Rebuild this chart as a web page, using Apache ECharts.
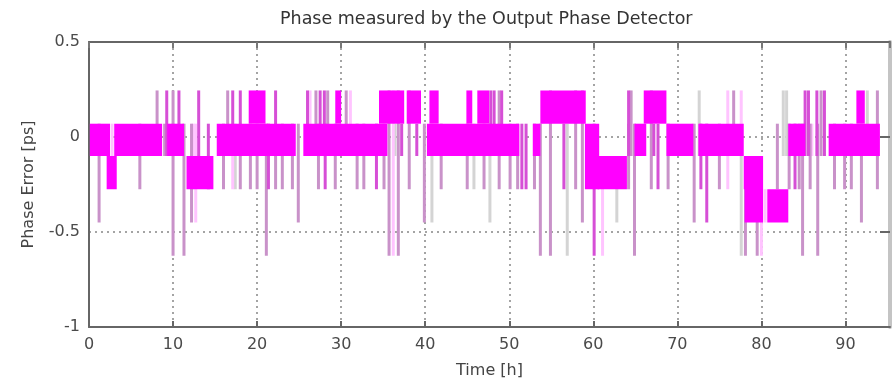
<!DOCTYPE html>
<html><head><meta charset="utf-8">
<script src="https://cdn.jsdelivr.net/npm/echarts@6/dist/echarts.min.js"></script>
<style>html,body{margin:0;padding:0;background:#fff}#c{width:894px;height:384px}</style>
</head><body><div id="c"></div>
<script>
// Time axis [h] and phase axis [ps]
const titleText = 'Phase measured by the Output Phase Detector';
const xName = 'Time [h]';
const yName = 'Phase Error [ps]';
const xTicks = [0, 10, 20, 30, 40, 50, 60, 70, 80, 90];
const yTicks = [-1, -0.5, 0, 0.5];

// Dense toggling regions: [tStart, tEnd, low, high]
const blocks = [
  [0.1, 2.5, -0.1, 0.07], [3.0, 8.7, -0.1, 0.07], [9.3, 11.3, -0.1, 0.07], [15.2, 24.6, -0.1, 0.07],
  [25.5, 35.5, -0.1, 0.07], [40.2, 51.2, -0.1, 0.07], [52.8, 53.7, -0.1, 0.07], [59.0, 60.7, -0.275, 0.07],
  [64.9, 66.3, -0.1, 0.07], [68.7, 71.9, -0.1, 0.07], [72.5, 77.9, -0.1, 0.07], [83.2, 85.2, -0.1, 0.07],
  [88.0, 94.1, -0.1, 0.07],
  [19.0, 21.0, 0.07, 0.245], [29.3, 30.0, 0.07, 0.245], [34.5, 37.5, 0.07, 0.245], [37.8, 39.5, 0.07, 0.245],
  [40.5, 41.6, 0.07, 0.245], [44.9, 45.6, 0.07, 0.245], [46.2, 47.6, 0.07, 0.245], [53.7, 59.1, 0.07, 0.245],
  [66.0, 68.7, 0.07, 0.245], [91.3, 92.3, 0.07, 0.245],
  [2.1, 3.3, -0.275, -0.1], [11.6, 14.8, -0.275, -0.1], [60.5, 64.0, -0.275, -0.1], [77.9, 78.6, -0.275, -0.1],
  [78.0, 80.2, -0.45, -0.1], [80.7, 83.2, -0.45, -0.275]
];

// Single excursions: [t, low, high]
const spikesPurple = [
  [8.1, -0.1, 0.245], [10.0, -0.1, 0.245], [16.5, -0.1, 0.245], [27.0, -0.1, 0.245], [28.4, -0.1, 0.245],
  [30.6, -0.1, 0.245], [48.8, -0.1, 0.245], [64.5, -0.1, 0.245], [76.7, -0.1, 0.245], [87.1, -0.1, 0.245],
  [93.8, -0.1, 0.245], [9.0, -0.1, 0.07],
  [1.2, -0.45, 0.07], [6.05, -0.275, 0.07], [10.0, -0.625, 0.07], [11.3, -0.625, 0.07], [12.2, -0.45, 0.07],
  [16.0, -0.275, 0.07], [18.0, -0.275, 0.07], [19.2, -0.275, 0.07], [20.0, -0.275, 0.07], [21.1, -0.625, 0.07],
  [22.2, -0.275, 0.07], [23.0, -0.275, 0.07], [24.2, -0.275, 0.07], [24.9, -0.45, 0.07], [27.3, -0.275, 0.07],
  [29.3, -0.275, 0.07], [31.9, -0.275, 0.07], [32.7, -0.275, 0.07], [35.1, -0.275, 0.07], [35.7, -0.625, 0.245],
  [36.8, -0.625, 0.245], [38.1, -0.275, 0.245], [39.9, -0.45, 0.07], [41.9, -0.275, 0.07], [45.0, -0.275, 0.07],
  [47.0, -0.275, 0.07], [48.8, -0.275, 0.07], [50.1, -0.275, 0.07], [51.0, -0.275, 0.07], [53.0, -0.275, 0.07],
  [53.7, -0.625, 0.07], [54.9, -0.625, 0.245], [57.9, -0.275, 0.245], [58.7, -0.45, 0.245], [64.2, -0.275, 0.07],
  [64.9, -0.625, 0.07], [66.9, -0.275, 0.245], [68.9, -0.275, 0.07], [72.0, -0.45, 0.07], [75.0, -0.275, 0.07],
  [78.1, -0.625, -0.1], [79.5, -0.625, -0.1], [81.9, -0.275, 0.07], [83.3, -0.275, 0.07], [84.5, -0.275, 0.07],
  [84.9, -0.625, 0.07], [85.8, -0.275, 0.07], [86.7, -0.625, 0.07], [88.7, -0.275, 0.07], [89.9, -0.275, 0.07],
  [90.7, -0.275, 0.07], [91.9, -0.45, 0.07], [93.8, -0.275, 0.07]
];
const spikesMagenta = [
  [9.25, -0.1, 0.245], [10.7, -0.1, 0.245], [13.05, -0.1, 0.245], [17.1, -0.1, 0.245], [18.0, -0.1, 0.245],
  [22.2, -0.1, 0.245], [26.0, -0.1, 0.245], [27.5, -0.1, 0.245], [28.0, -0.1, 0.245], [47.8, -0.1, 0.245],
  [48.2, -0.1, 0.245], [49.1, -0.1, 0.245], [64.2, -0.1, 0.245], [85.2, -0.1, 0.245], [85.6, -0.1, 0.245],
  [86.6, -0.1, 0.245], [87.5, -0.1, 0.245],
  [14.2, -0.275, 0.07], [21.35, -0.275, 0.07], [28.1, -0.275, 0.07], [34.2, -0.275, 0.07], [51.5, -0.275, 0.07],
  [52.0, -0.275, 0.07], [60.1, -0.625, 0.07], [67.7, -0.275, 0.07], [72.8, -0.275, 0.07], [73.5, -0.45, 0.07],
  [84.0, -0.275, 0.07], [37.2, -0.1, 0.07], [39.0, -0.1, 0.07], [67.2, -0.1, 0.07], [56.5, -0.275, 0.07]
];
const spikesGray = [
  [72.6, -0.1, 0.245], [82.6, -0.1, 0.245], [83.0, -0.1, 0.245], [92.6, -0.1, 0.245],
  [17.4, -0.275, 0.07], [40.8, -0.45, 0.07], [45.8, -0.275, 0.07], [47.7, -0.45, 0.07], [56.9, -0.625, 0.07],
  [62.8, -0.45, -0.1], [77.6, -0.625, 0.07], [36.4, -0.1, 0.07]
];
const spikesPink = [
  [26.3, -0.1, 0.245], [31.1, -0.1, 0.245], [76.0, -0.1, 0.245], [77.6, -0.1, 0.245],
  [12.7, -0.45, 0.07], [17.1, -0.275, 0.07], [36.2, -0.625, 0.245], [61.1, -0.625, -0.1], [76.0, -0.275, 0.07],
  [80.0, -0.625, -0.1], [12.4, -0.275, 0.07], [2.75, -0.1, 0.07], [80.45, -0.45, -0.275], [86.0, -0.1, 0.07]
];

const FONT = 'DejaVu Sans';
const X_MAX = 95.3;

function renderBlock(params, api) {
  const p0 = api.coord([api.value(0), api.value(3)]);
  const p1 = api.coord([api.value(1), api.value(2)]);
  return { type: 'rect', shape: { x: p0[0], y: p0[1], width: p1[0] - p0[0], height: p1[1] - p0[1] },
    style: { fill: api.visual('color') } };
}
function renderSpike(params, api) {
  const top = api.coord([api.value(0), api.value(2)]);
  const bot = api.coord([api.value(0), api.value(1)]);
  return { type: 'rect', shape: { x: top[0] - 1.5, y: top[1], width: 3, height: bot[1] - top[1] },
    style: { fill: api.visual('color') } };
}
function spikeSeries(data, color) {
  return { type: 'custom', renderItem: renderSpike, data: data, itemStyle: { color: color },
    encode: { x: 0, y: [1, 2] }, clip: true, silent: true };
}

const chart = echarts.init(document.getElementById('c'), null, { renderer: 'canvas' });
chart.setOption({
  animation: false,
  backgroundColor: '#ffffff',
  title: { text: titleText, left: 280, top: 10, padding: 0,
    textStyle: { fontFamily: FONT, fontSize: 17.5, fontWeight: 'normal', color: '#333' } },
  grid: { left: 89, right: 4, top: 42, bottom: 53 },
  xAxis: [
    { type: 'value', min: 0, max: X_MAX, interval: 10, position: 'bottom',
      name: xName, nameLocation: 'middle', nameGap: 36,
      nameTextStyle: { fontFamily: FONT, fontSize: 16, color: '#444' },
      axisLine: { show: true, onZero: false, lineStyle: { color: '#666', width: 2 } },
      axisTick: { show: true, inside: true, length: 6, lineStyle: { color: '#666', width: 2 } },
      axisLabel: { margin: 10, fontFamily: FONT, fontSize: 16, color: '#4a4a4a', showMaxLabel: false,
        formatter: v => (xTicks.indexOf(v) >= 0 ? String(v) : '') },
      splitLine: { show: true, lineStyle: { color: '#a4a4a4', width: 2, type: [2, 4] } } },
    { type: 'value', min: 0, max: X_MAX, interval: 10, position: 'top',
      axisLine: { show: true, onZero: false, lineStyle: { color: '#666', width: 2 } },
      axisTick: { show: true, inside: true, length: 6, lineStyle: { color: '#777', width: 2 } },
      axisLabel: { show: false }, splitLine: { show: false } }
  ],
  yAxis: [
    { type: 'value', min: -1, max: 0.5, interval: 0.5, position: 'left',
      name: yName, nameLocation: 'middle', nameGap: 52,
      nameTextStyle: { fontFamily: FONT, fontSize: 16, color: '#444' },
      axisLine: { show: true, onZero: false, lineStyle: { color: '#666', width: 2 } },
      axisTick: { show: false },
      axisLabel: { margin: 9, fontFamily: FONT, fontSize: 16, color: '#4a4a4a',
        formatter: v => (yTicks.indexOf(v) >= 0 ? String(v) : '') },
      splitLine: { show: true, lineStyle: { color: '#a4a4a4', width: 2, type: [2, 4] } } },
    { type: 'value', min: -1, max: 0.5, interval: 0.5, position: 'right',
      axisLine: { show: true, onZero: false, lineStyle: { color: '#c4c4c4', width: 4 } },
      axisTick: { show: true, inside: true, length: 10, lineStyle: { color: '#666', width: 2 } },
      axisLabel: { show: false }, splitLine: { show: false } }
  ],
  series: [
    spikeSeries(spikesGray, '#d4d4d4'),
    spikeSeries(spikesPink, '#ffc4ff'),
    spikeSeries(spikesPurple, '#c992c9'),
    spikeSeries(spikesMagenta, '#d64fd6'),
    { type: 'custom', renderItem: renderBlock, data: blocks, itemStyle: { color: '#ff00ff' },
      encode: { x: [0, 1], y: [2, 3] }, clip: true, silent: true }
  ]
});
</script>
</body></html>
